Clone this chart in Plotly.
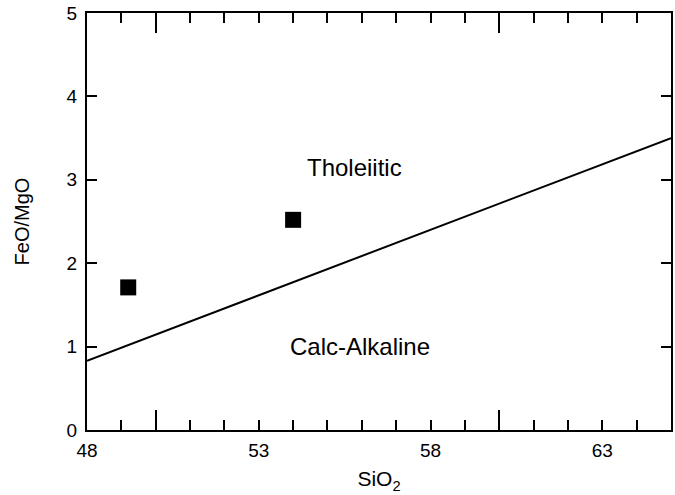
import plotly.graph_objects as go

# Data
sample_sio2 = [49.2, 54.0]
sample_feo_mgo = [1.71, 2.52]

boundary_sio2 = [48, 65]
boundary_feo_mgo = [0.83, 3.50]

x_label_vals = [48, 53, 58, 63]
x_minor_vals = list(range(48, 66))
x_major_vals = [50, 60]
y_tick_vals = [0, 1, 2, 3, 4, 5]

field_labels = ["Tholeiitic", "Calc-Alkaline"]
field_x = [55.8, 55.95]
field_y = [3.15, 1.0]

FONT = "Liberation Sans, Arial, sans-serif"

fig = go.Figure()
fig.add_trace(go.Scatter(
    x=boundary_sio2, y=boundary_feo_mgo, mode="lines",
    line=dict(color="black", width=2), xaxis="x2", yaxis="y",
    showlegend=False, hoverinfo="skip"))
fig.add_trace(go.Scatter(
    x=sample_sio2, y=sample_feo_mgo, mode="markers",
    marker=dict(symbol="square", size=16, color="black"),
    showlegend=False))

for t, xx, yy in zip(field_labels, field_x, field_y):
    fig.add_annotation(x=xx, y=yy, text=t, showarrow=False,
                       font=dict(family=FONT, size=24, color="black"))

fig.update_layout(
    template="none",
    width=675, height=495,
    margin=dict(l=87, r=4, t=13, b=65, autoexpand=False),
    paper_bgcolor="white", plot_bgcolor="white",
    font=dict(family=FONT, size=19, color="black"),
    xaxis=dict(
        range=[48, 65], tickmode="array", tickvals=x_label_vals,
        ticks="inside", ticklen=10, tickwidth=2, tickcolor="black",
        minor=dict(tickmode="array", tickvals=x_minor_vals, ticks="inside",
                   ticklen=10, tickwidth=2, tickcolor="black", showgrid=False),
        showline=True, linewidth=2, linecolor="black", mirror="ticks",
        showgrid=False, zeroline=False, ticklabelstandoff=2, automargin=False,
        tickfont=dict(size=19),
        title=dict(text="SiO<sub>2</sub>", font=dict(size=21), standoff=12),
    ),
    xaxis2=dict(
        range=[48, 65], overlaying="x", anchor="y", side="bottom",
        tickmode="array", tickvals=x_major_vals, showticklabels=False,
        ticks="inside", ticklen=20, tickwidth=2, tickcolor="black",
        showline=False, mirror="ticks", showgrid=False, zeroline=False,
        automargin=False,
    ),
    yaxis=dict(
        range=[0, 5], tickmode="array", tickvals=y_tick_vals,
        ticks="inside", ticklen=10, tickwidth=2, tickcolor="black",
        showline=True, linewidth=2, linecolor="black", mirror="ticks",
        showgrid=False, zeroline=False, ticklabelstandoff=4, automargin=False,
        tickfont=dict(size=19),
        title=dict(text="FeO/MgO", font=dict(size=20), standoff=32),
    ),
)

fig.write_html(
    "out.html",
    config={"displayModeBar": False},
    post_script="document.body.style.margin='0';document.body.style.overflow='hidden';",
)
